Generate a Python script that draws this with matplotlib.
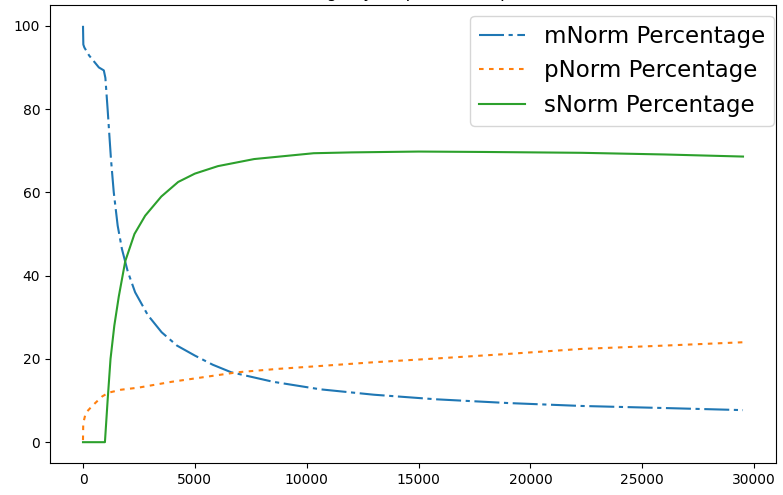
import matplotlib
matplotlib.use("Agg")
import matplotlib.pyplot as plt

# step values
m_step = [0, 15, 60, 270, 710, 930, 1000, 1100, 1150, 1250, 1375, 1550, 1740,
          2000, 2330, 2900, 3515, 4200, 5000, 5800, 6620, 8500, 10600, 13000,
          15780, 19000, 22280, 26000, 29500]
m_norm = [100, 95.5, 94.8, 92.9, 90.0, 89.3, 87.5, 80.0, 76.0, 68.0, 60.0, 52.0, 46.4,
          41.0, 36.0, 30.5, 26.4, 23.2, 20.8, 18.6, 16.8, 14.5, 12.7, 11.4,
          10.3, 9.4, 8.7, 8.2, 7.7]

p_step = [0, 10, 120, 410, 860, 1150, 1700, 2480, 3960, 5500, 6920, 8700, 10600,
          13000, 15780, 19000, 22280, 26000, 29500]
p_norm = [0.5, 4.5, 7.0, 8.7, 11.0, 11.9, 12.6, 13.1, 14.5, 15.7, 16.8, 17.6, 18.3,
          19.2, 20.1, 21.2, 22.4, 23.2, 24.0]

s_step = [0, 980, 1100, 1230, 1400, 1600, 1890, 2300, 2780, 3500, 4255, 5000, 6030,
          7650, 10310, 12000, 15000, 18000, 22280, 26000, 29500]
s_norm = [0, 0, 10.0, 20.0, 28.0, 35.0, 43.5, 50.0, 54.4, 59.0, 62.5, 64.5, 66.3,
          68.0, 69.4, 69.6, 69.8, 69.7, 69.5, 69.1, 68.6]

fig = plt.figure(figsize=(7.83, 4.95), dpi=100)
ax = fig.add_axes([50 / 783, 32 / 495, 726 / 783, 458 / 495])

ax.plot(m_step, m_norm, linestyle=(0, (12, 2.2, 2, 2.2)), label="mNorm Percentage")
ax.plot(p_step, p_norm, linestyle=(0, (2.2, 2.6)), label="pNorm Percentage")
ax.plot(s_step, s_norm, linestyle="-", label="sNorm Percentage")

# title sits above the top edge, only its lower part shows
ax.set_title("Phase Percentage by Step (mNorm, pNorm, sNorm)", pad=6)
ax.legend(loc="upper right", bbox_to_anchor=(1.013, 1.002), fontsize=16.5)

fig.savefig("out.png", dpi=100)
